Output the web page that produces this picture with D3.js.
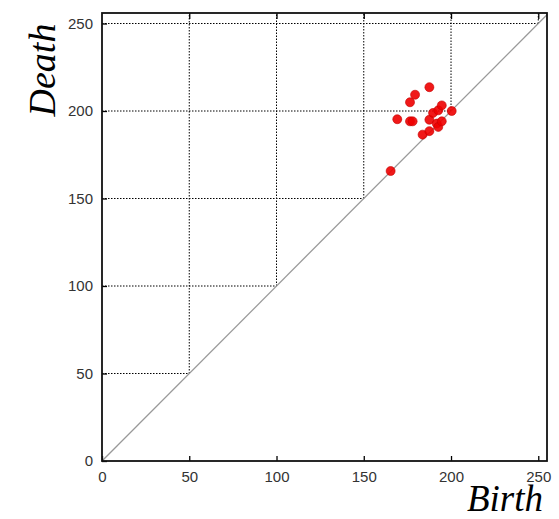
<!DOCTYPE html>
<html>
<head>
<meta charset="utf-8">
<script src="https://cdn.jsdelivr.net/npm/d3@7"></script>
<style>
  body { margin: 0; background: #fff; }
  svg { display: block; }
</style>
</head>
<body>
<svg id="chart" width="559" height="519"></svg>
<script>
// persistence pairs
var birth = [165.4, 169.2, 176.5, 178, 176.5, 179.4, 183.7, 187.6, 187.6, 187.6, 189.7, 191.8, 192.7, 192.7, 194.7, 194.7, 200.4];
var death = [165.7, 195.3, 194.1, 194.1, 205, 209.3, 186.5, 213.6, 195, 188.5, 198.9, 192.8, 190.9, 200.4, 203.2, 194.1, 200];
var tickValues = [0, 50, 100, 150, 200, 250];

var svg = d3.select("#chart");

var x = d3.scaleLinear().domain([0, 255]).range([102, 547]);
var y = d3.scaleLinear().domain([0, 256]).range([461, 13]);

var points = birth.map(function(b, i) { return {x: b, y: death[i]}; });

// staircase grid: only above the diagonal
var grid = svg.append("g")
    .attr("stroke", "#000")
    .attr("stroke-width", 1)
    .attr("stroke-dasharray", "1.5,1.5");

tickValues.slice(1).forEach(function(v) {
  grid.append("line")
      .attr("x1", x(0)).attr("x2", x(v))
      .attr("y1", y(v)).attr("y2", y(v));
  grid.append("line")
      .attr("x1", x(v)).attr("x2", x(v))
      .attr("y1", y(v)).attr("y2", y(256));
});

// diagonal
svg.append("line")
    .attr("x1", x(0)).attr("y1", y(0))
    .attr("x2", x(255)).attr("y2", y(255))
    .attr("stroke", "#999")
    .attr("stroke-width", 1.3);

// axes
var xAxis = svg.append("g")
    .attr("transform", "translate(0," + y(0) + ")")
    .call(d3.axisBottom(x).tickValues(tickValues).tickSize(-5).tickPadding(10));
var xTop = svg.append("g")
    .attr("transform", "translate(0," + y(256) + ")")
    .call(d3.axisTop(x).tickValues(tickValues.slice(1)).tickSize(-6).tickFormat(""));
var yAxis = svg.append("g")
    .attr("transform", "translate(" + x(0) + ",0)")
    .call(d3.axisLeft(y).tickValues(tickValues).tickSize(-5).tickPadding(9));

[xAxis, xTop, yAxis].forEach(function(a) {
  a.select(".domain").remove();
  a.selectAll(".tick line").attr("stroke", "#000").attr("stroke-width", 1.3);
  a.selectAll(".tick text")
      .attr("fill", "#333")
      .style("font-family", "'Liberation Sans', Arial, sans-serif")
      .style("font-size", "15px");
});

// frame
svg.append("rect")
    .attr("x", x(0)).attr("y", y(256))
    .attr("width", x(255) - x(0))
    .attr("height", y(0) - y(256))
    .attr("fill", "none")
    .attr("stroke", "#111")
    .attr("stroke-width", 1.8);

// points
svg.append("g")
  .selectAll("circle")
  .data(points)
  .enter().append("circle")
    .attr("cx", function(d) { return x(d.x); })
    .attr("cy", function(d) { return y(d.y); })
    .attr("r", 4.5)
    .attr("fill", "#ee0000")
    .attr("fill-opacity", 0.9)
    .attr("stroke", "#c40000")
    .attr("stroke-width", 0.6);

// axis titles
svg.append("text")
    .attr("transform", "translate(55,70) rotate(-90)")
    .attr("text-anchor", "middle")
    .style("font-family", "'Liberation Serif', 'Times New Roman', serif")
    .style("font-style", "italic")
    .style("font-size", "38px")
    .text("Death");

svg.append("text")
    .attr("x", 543)
    .attr("y", 511)
    .attr("text-anchor", "end")
    .style("font-family", "'Liberation Serif', 'Times New Roman', serif")
    .style("font-style", "italic")
    .style("font-size", "37px")
    .text("Birth");
</script>
</body>
</html>
